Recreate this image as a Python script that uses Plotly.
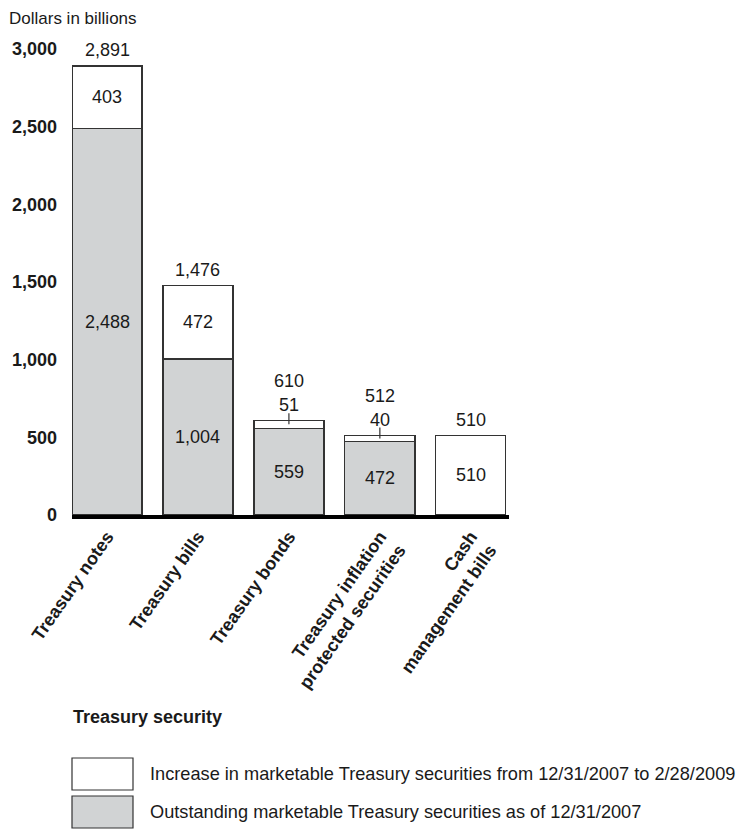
import plotly.graph_objects as go

categories = ["Treasury notes", "Treasury bills", "Treasury bonds",
              "Treasury inflation<br>protected securities", "Cash<br>management bills"]
outstanding = [2488, 1004, 559, 472, 0]
increase = [403, 472, 51, 40, 510]
totals = [2891, 1476, 610, 512, 510]
y_ticks = [0, 500, 1000, 1500, 2000, 2500, 3000]

OFF = 8  # page body margin
W, H = 753 - OFF, 829 - OFF
L, T = 72 - OFF, 49 - OFF
B = H - (515 - OFF)
R = W - (509 - OFF)
PW, PH = W - L - R, H - T - B

def px(x):
    return (x - OFF - L) / PW

def py(y):
    return (H - B - (y - OFF)) / PH

FONT = "Liberation Sans, Arial, Helvetica, sans-serif"
GRAY = "#d1d3d4"
EDGE = "#333333"
TXT = "#1a1a1a"

xs = list(range(len(categories)))

fig = go.Figure()
fig.add_trace(go.Bar(
    x=xs, y=[v if v else None for v in outstanding],
    marker=dict(color=GRAY, line=dict(color=EDGE, width=1.3)),
    name="Outstanding", showlegend=False, hoverinfo="skip"))
fig.add_trace(go.Bar(
    x=xs, y=increase,
    marker=dict(color="white", line=dict(color=EDGE, width=1.3)),
    name="Increase", showlegend=False, hoverinfo="skip"))

annotations = []
shapes = []
lab_font = dict(family=FONT, size=18, color=TXT)
for i in xs:
    o, inc, t = outstanding[i], increase[i], totals[i]
    if o:
        annotations.append(dict(x=i, y=o / 2, text=f"{o:,}", showarrow=False,
                                font=lab_font, xref="x", yref="y"))
    if inc >= 100:
        annotations.append(dict(x=i, y=o + inc / 2, text=f"{inc:,}", showarrow=False,
                                font=lab_font, xref="x", yref="y"))
        annotations.append(dict(x=i, y=t, text=f"{t:,}", showarrow=False,
                                font=lab_font, xref="x", yref="y",
                                yanchor="middle", yshift=16))
    else:
        mid = o + inc / 2
        shapes.append(dict(type="line", xref="x", yref="y", ysizemode="pixel",
                           yanchor=mid, x0=i, x1=i, y0=0, y1=11,
                           line=dict(color=EDGE, width=1.2)))
        annotations.append(dict(x=i, y=t, text=f"{inc:,}", showarrow=False,
                                font=lab_font, xref="x", yref="y",
                                yanchor="middle", yshift=15))
        annotations.append(dict(x=i, y=t, text=f"{t:,}", showarrow=False,
                                font=lab_font, xref="x", yref="y",
                                yanchor="middle", yshift=39))

# top-left unit label
annotations.append(dict(x=px(7), y=py(18), xref="paper", yref="paper",
                        xanchor="left", yanchor="middle", showarrow=False,
                        text="Dollars in billions",
                        font=dict(family=FONT, size=17, color=TXT)))
# axis title
annotations.append(dict(x=px(71), y=py(717), xref="paper", yref="paper",
                        xanchor="left", yanchor="middle", showarrow=False,
                        text="<b>Treasury security</b>",
                        font=dict(family=FONT, size=18, color=TXT)))

# legend
legend_items = [
    ("white", "Increase in marketable Treasury securities from 12/31/2007 to 2/28/2009", 758, 790),
    (GRAY, "Outstanding marketable Treasury securities as of 12/31/2007", 796, 828),
]
for color, text, y0, y1 in legend_items:
    shapes.append(dict(type="rect", xref="paper", yref="paper",
                       x0=px(72), x1=px(133), y0=py(y1), y1=py(y0),
                       fillcolor=color, line=dict(color=EDGE, width=1.2)))
    annotations.append(dict(x=px(148), y=py((y0 + y1) / 2), xref="paper", yref="paper",
                            xanchor="left", yanchor="middle", showarrow=False,
                            text=text, font=dict(family=FONT, size=18.2, color=TXT)))

fig.update_layout(
    width=W, height=H,
    margin=dict(l=L, r=R, t=T, b=B, autoexpand=False),
    paper_bgcolor="white", plot_bgcolor="white",
    barmode="stack", bargap=0.23,
    showlegend=False,
    font=dict(family=FONT, color=TXT),
    annotations=annotations, shapes=shapes,
    xaxis=dict(range=[-0.385, 4.42], tickmode="array", tickvals=xs,
               ticktext=[f"<b>{c}</b>" for c in categories],
               tickangle=-55, tickfont=dict(family=FONT, size=18, color=TXT),
               showline=True, linecolor="black", linewidth=4,
               showgrid=False, zeroline=False, ticks=""),
    yaxis=dict(range=[0, 3000], tickmode="array", tickvals=y_ticks,
               ticktext=[f"<b>{v:,}</b>" for v in y_ticks],
               tickfont=dict(family=FONT, size=18, color=TXT),
               showgrid=False, zeroline=False, showline=False, ticks="",
               ticklabelstandoff=14),
)

fig.write_html("out.html")
